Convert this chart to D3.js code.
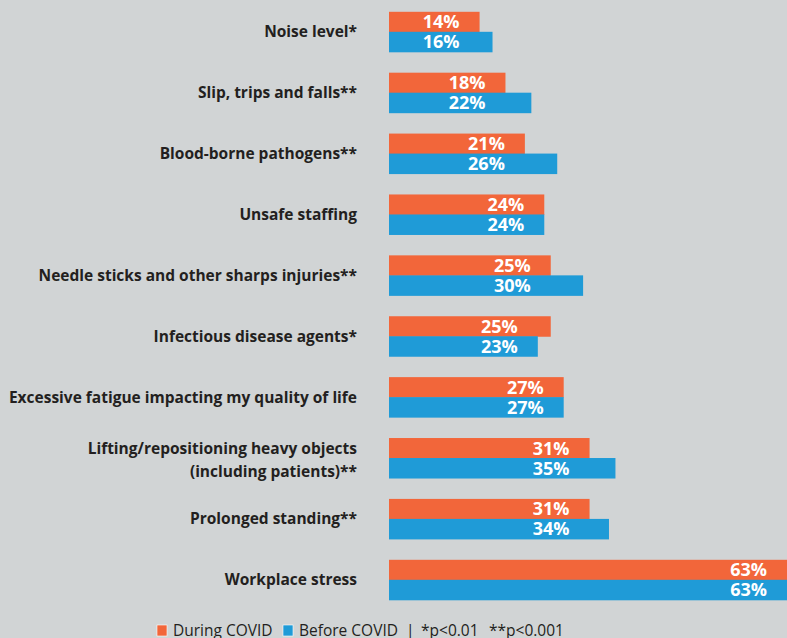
<!DOCTYPE html>
<html>
<head>
<meta charset="utf-8">
<script src="https://cdn.jsdelivr.net/npm/d3@7"></script>
<style>
  html, body { margin: 0; padding: 0; background: #d1d4d5; overflow: hidden; }
  svg { display: block; }
</style>
</head>
<body>
<div id="chart"></div>
<script>
const categories = [
  ["Noise level*"],
  ["Slip, trips and falls**"],
  ["Blood-borne pathogens**"],
  ["Unsafe staffing"],
  ["Needle sticks and other sharps injuries**"],
  ["Infectious disease agents*"],
  ["Excessive fatigue impacting my quality of life"],
  ["Lifting/repositioning heavy objects", "(including patients)**"],
  ["Prolonged standing**"],
  ["Workplace stress"]
];
const duringCovid = [14, 18, 21, 24, 25, 25, 27, 31, 31, 63];
const beforeCovid = [16, 22, 26, 24, 30, 23, 27, 35, 34, 63];
const seriesNames = ["During COVID", "Before COVID"];
const seriesColors = ["#f2663a", "#1f9bd7"];
const footnote = ["*p<0.01", "**p<0.001"];

const W = 787, H = 638;
const svg = d3.select("#chart").append("svg").attr("width", W).attr("height", H);
svg.append("rect").attr("width", W).attr("height", H).attr("fill", "#d1d4d5");

const keys = categories.map(c => c.join(" "));
const y = d3.scaleBand().domain(keys).range([11.8, 599.8]).paddingInner(0.343).paddingOuter(0);
const ySub = d3.scaleBand().domain(seriesNames).range([0, y.bandwidth()]);
const x = d3.scaleLinear().domain([0, 100]).range([389, 389 + 647]);

const rows = keys.map((k, i) => ({ key: k, lines: categories[i], vals: [duringCovid[i], beforeCovid[i]] }));

const g = svg.selectAll("g.row").data(rows).join("g").attr("class", "row")
  .attr("transform", d => `translate(0,${y(d.key)})`);

g.selectAll("rect.bar").data(d => d.vals.map((v, j) => ({ v, s: seriesNames[j], c: seriesColors[j] })))
  .join("rect").attr("class", "bar")
  .attr("x", x(0))
  .attr("y", d => ySub(d.s))
  .attr("width", d => x(d.v) - x(0))
  .attr("height", ySub.bandwidth() + 0.5)
  .attr("fill", d => d.c);

g.each(function(d) {
  const mn = Math.min(d.vals[0], d.vals[1]);
  const rx = Math.min(x(mn), W) - 20;
  d3.select(this).selectAll("text.val").data(d.vals.map((v, j) => ({ v, s: seriesNames[j] })))
    .join("text").attr("class", "val")
    .attr("x", rx)
    .attr("y", v => ySub(v.s) + ySub.bandwidth() / 2 + 6.5)
    .attr("text-anchor", "end")
    .attr("font-family", "'Open Sans', sans-serif")
    .attr("font-weight", 700)
    .attr("font-size", 18)
    .attr("fill", "#ffffff")
    .text(v => v.v + "%");
});

g.each(function(d) {
  const cy = y.bandwidth() / 2;
  const n = d.lines.length;
  const lh = 23;
  const t = d3.select(this).append("text")
    .attr("text-anchor", "end")
    .attr("font-family", "'Open Sans', sans-serif")
    .attr("font-weight", 700)
    .attr("font-size", 15.5)
    .attr("fill", "#231f20");
  d.lines.forEach((ln, i) => {
    t.append("tspan").attr("x", 357)
      .attr("y", cy + 5.5 + (i - (n - 1) / 2) * lh + (n > 1 ? 2 : 0))
      .text(ln);
  });
});

// legend
const leg = svg.append("g").attr("font-family", "'Open Sans', sans-serif").attr("font-size", 15.5).attr("fill", "#231f20");
const legItems = [
  { sq: 157, tx: 173, name: seriesNames[0], c: seriesColors[0] },
  { sq: 283, tx: 299, name: seriesNames[1], c: seriesColors[1] }
];
legItems.forEach(it => {
  leg.append("rect").attr("x", it.sq).attr("y", 625).attr("width", 10).attr("height", 11)
    .attr("fill", it.c).attr("stroke", "#ffffff").attr("stroke-width", 0.6);
  leg.append("text").attr("x", it.tx).attr("y", 636).text(it.name);
});
leg.append("text").attr("x", 406).attr("y", 636).text("|");
leg.append("text").attr("x", 421).attr("y", 636).text(footnote[0]);
leg.append("text").attr("x", 489).attr("y", 636).text(footnote[1]);
</script>
</body>
</html>
